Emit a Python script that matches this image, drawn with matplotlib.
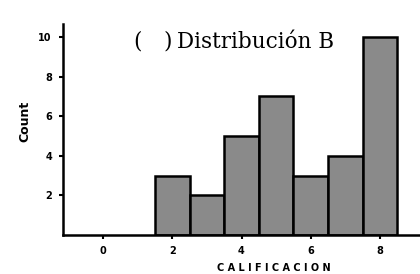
import matplotlib.pyplot as plt

# histogram data
calificacion = [2, 3, 4, 5, 6, 7, 8]
conteo = [3, 2, 5, 7, 3, 4, 10]
xticks = [0, 2, 4, 6, 8]
yticks = [2, 4, 6, 8, 10]

fig = plt.figure(figsize=(4.2, 2.74), dpi=100)
ax = fig.add_axes([0.15, 0.142, 0.85, 0.77])

ax.bar(calificacion, conteo, width=1.0, color='#8a8a8a',
       edgecolor='black', linewidth=1.8, zorder=2)

ax.set_xlim(-1.15, 9.15)
ax.set_ylim(0, 10.65)
ax.set_xticks(xticks)
ax.set_yticks(yticks)
ax.tick_params(axis='both', direction='out', length=3, width=1.5,
               labelsize=7, pad=5)
for lbl in ax.get_xticklabels() + ax.get_yticklabels():
    lbl.set_fontweight('bold')

for side in ['top', 'right']:
    ax.spines[side].set_visible(False)
ax.spines['left'].set_linewidth(1.8)
ax.spines['bottom'].set_linewidth(1.8)

# axis labels placed by hand to sit where the scan has them
fig.text(0.652, 0.022, 'C A L I F I C A C I O N', fontsize=7,
         fontweight='bold', ha='center', va='center')
fig.text(0.06, 0.558, 'Count', fontsize=9, fontweight='bold',
         rotation=90, ha='center', va='center')

# title with an empty tick box in front
fig.text(133 / 420, 0.847, '(', family='DejaVu Serif', fontsize=15.5,
         ha='left', va='center')
fig.text(163 / 420, 0.847, ')', family='DejaVu Serif', fontsize=15.5,
         ha='left', va='center')
fig.text(177 / 420, 0.847, 'Distribución B', family='DejaVu Serif',
         fontsize=15.5, ha='left', va='center')

fig.savefig('out.png', dpi=100)
